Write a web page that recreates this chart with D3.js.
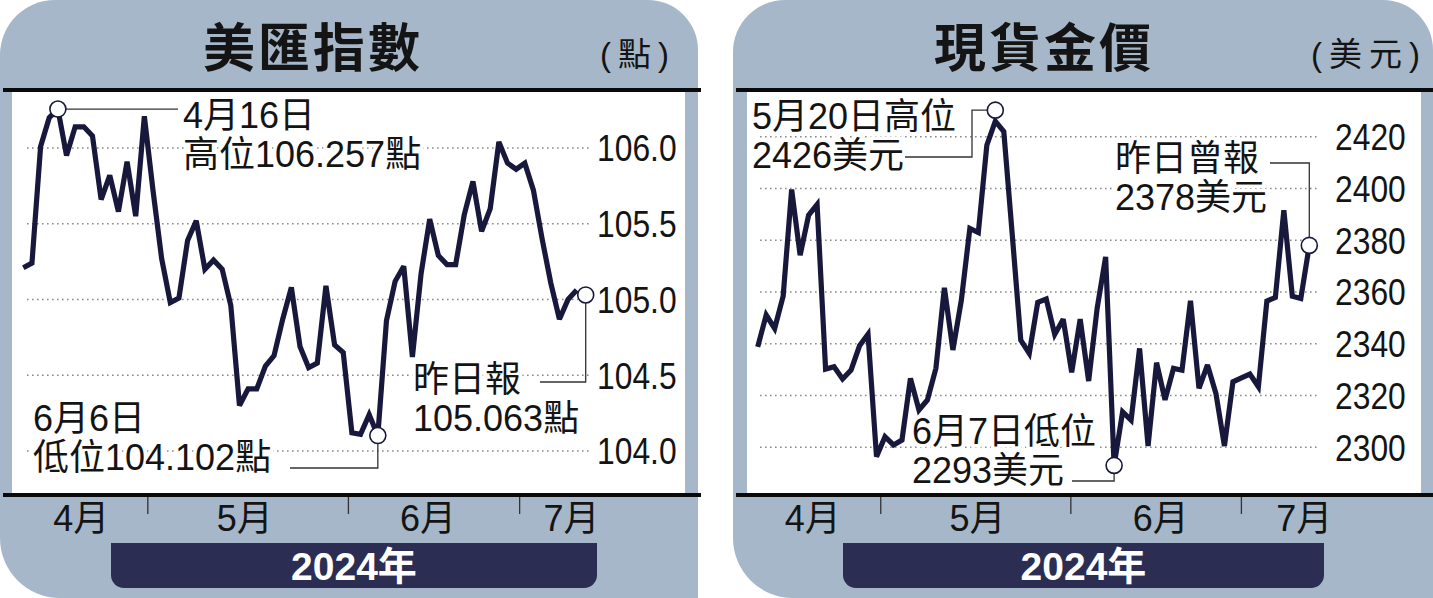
<!DOCTYPE html>
<html>
<head>
<meta charset="utf-8">
<script src="https://cdn.jsdelivr.net/npm/d3@7"></script>
<style>
  html, body { margin: 0; padding: 0; background: #fff; }
  svg { display: block; }
  text { font-family: 'Liberation Sans', 'Noto Sans CJK TC', sans-serif; fill: #141414; }
</style>
</head>
<body>
<svg id="chart" width="1433" height="598"></svg>
<script>
// 美匯指數, one value per trading day
const dxyValues = [
  105.21, 105.24, 106.01, 106.20, 106.257, 105.95, 106.14, 106.14, 106.08, 105.66,
  105.82, 105.58, 105.91, 105.55, 106.21, 105.72, 105.27, 104.98, 105.01, 105.39,
  105.52, 105.20, 105.26, 105.20, 104.96, 104.30, 104.41, 104.41, 104.56, 104.63,
  104.87, 105.08, 104.69, 104.55, 104.58, 105.09, 104.70, 104.65, 104.12, 104.11,
  104.24, 104.102, 104.86, 105.12, 105.22, 104.62, 105.17, 105.53, 105.29, 105.23,
  105.23, 105.56, 105.78, 105.45, 105.60, 106.04, 105.90, 105.86, 105.90, 105.72,
  105.40, 105.11, 104.87, 105.00, 105.063
];

// 現貨金價 (美元), one value per trading day
const goldValues = [
  2338.8, 2351.1, 2345.9, 2358.4, 2399.6, 2374.2, 2389.7, 2393.8, 2330.2, 2331.1,
  2326.4, 2329.8, 2339.2, 2343.7, 2296.4, 2304.1, 2300.9, 2302.8, 2326.6, 2314.4,
  2318.3, 2330.5, 2361.6, 2337.6, 2356.9, 2384.6, 2383.0, 2416.7, 2426, 2422,
  2382, 2341.4, 2336.3, 2356.0, 2357.3, 2343.6, 2349.5, 2329.0, 2349.5, 2325.6,
  2353.7, 2373.6, 2293, 2313.7, 2310.5, 2338.2, 2300.5, 2332.7, 2318.3, 2330.5,
  2329.8, 2356.6, 2322.8, 2331.8, 2320.8, 2300.5, 2325.3, 2326.8, 2328.3, 2323.4,
  2356.5, 2357.9, 2391.6, 2358.4, 2357.5, 2378
];

const dxyTicks = [104.0, 104.5, 105.0, 105.5, 106.0];
const goldTicks = [2300, 2320, 2340, 2360, 2380, 2400, 2420];

const monthLabels = ['4月', '5月', '6月', '7月'];
// month boundaries and label centres, in trading-day index units
const dxyMonthBreaks = [14.4, 37.6, 57.4];
const dxyMonthCentres = [6.7, 25.6, 46.8, 63.4];
const goldMonthBreaks = [14.5, 36.9, 57.0];
const goldMonthCentres = [6.5, 25.9, 47.5, 64.4];

const dxyNoteIndex = [4, 41, 64];
const dxyNoteText = [['4月16日', '高位106.257點'], ['6月6日', '低位104.102點'], ['昨日報', '105.063點']];
const goldNoteIndex = [28, 42, 65];
const goldNoteText = [['5月20日高位', '2426美元'], ['6月7日低位', '2293美元'], ['昨日曾報', '2378美元']];

const yearLabel = '2024年';

const PANEL_BG = '#a5b7c8';
const NAVY = '#17183c';
const R = 8; // marker radius

const svg = d3.select('#chart');

// rect path with individual corner radii [tl, tr, br, bl]
function cornerPath(x0, y0, x1, y1, r) {
  const [tl, tr, br, bl] = r;
  const p = d3.path();
  p.moveTo(x0 + tl, y0);
  p.lineTo(x1 - tr, y0);
  if (tr) p.arcTo(x1, y0, x1, y0 + tr, tr);
  p.lineTo(x1, y1 - br);
  if (br) p.arcTo(x1, y1, x1 - br, y1, br);
  p.lineTo(x0 + bl, y1);
  if (bl) p.arcTo(x0, y1, x0, y1 - bl, bl);
  p.lineTo(x0, y0 + tl);
  if (tl) p.arcTo(x0, y0, x0 + tl, y0, tl);
  p.closePath();
  return p.toString();
}

const panels = [
  {
    title: '美匯指數', unit: '(點)', values: dxyValues, ticks: dxyTicks,
    fmt: d3.format('.1f'), breaks: dxyMonthBreaks, centres: dxyMonthCentres,
    box: [0, 698], corners: [55, 50, 0, 60], plotX: [12, 685], ruleX: [3, 701],
    xRange: [23.3, 576.7], yDomain: [104, 106], yRange: [451, 148],
    gridX: [27, 592], tickX: 597, titleX: 313, unitX: 600, band: [111, 597],
    notes: [
      { i: 0, tx: 183, ty: 128, off: [0, 0],
        leader: c => `M${c[0] + R},${c[1]}H178` },
      { i: 1, tx: 33, ty: 431, off: [0, 0],
        leader: c => `M${c[0]},${c[1] + R}V468H290` },
      { i: 2, tx: 413, ty: 392, off: [9, 5],
        leader: c => `M${c[0]},${c[1] + R}V382H540` }
    ],
    noteIdx: dxyNoteIndex, noteText: dxyNoteText
  },
  {
    title: '現貨金價', unit: '(美元)', values: goldValues, ticks: goldTicks,
    fmt: d3.format('d'), breaks: goldMonthBreaks, centres: goldMonthCentres,
    box: [733, 1433], corners: [52, 50, 0, 60], plotX: [747, 1421], ruleX: [736, 1433],
    xRange: [757.7, 1309.3], yDomain: [2300, 2420], yRange: [447.3, 136.7],
    gridX: [760, 1320], tickX: 1335, titleX: 1044, unitX: 1311, band: [843, 1324],
    notes: [
      { i: 0, tx: 752, ty: 129, off: [0, -11],
        leader: c => `M905,157H972V${c[1]}H${c[0] - R}` },
      { i: 1, tx: 912, ty: 444, off: [0, 0],
        leader: c => `M1072,481H${c[0]}V${c[1] + R}` },
      { i: 2, tx: 1115, ty: 171, off: [0, 0],
        leader: c => `M1270,163H${c[0]}V${c[1] - R}` }
    ],
    noteIdx: goldNoteIndex, noteText: goldNoteText
  }
];

panels.forEach(p => {
  const g = svg.append('g');
  const x = d3.scaleLinear().domain([0, p.values.length - 1]).range(p.xRange);
  const y = d3.scaleLinear().domain(p.yDomain).range(p.yRange);

  // panel background
  g.append('path')
    .attr('d', cornerPath(p.box[0], 0, p.box[1], 598, p.corners))
    .attr('fill', PANEL_BG);

  // white plot area
  g.append('rect')
    .attr('x', p.plotX[0]).attr('y', 92)
    .attr('width', p.plotX[1] - p.plotX[0]).attr('height', 401)
    .attr('fill', '#fff');

  // title + unit
  g.append('text')
    .attr('x', p.titleX).attr('y', 67)
    .attr('text-anchor', 'middle')
    .style('font-family', "'Noto Sans CJK TC', sans-serif")
    .style('font-size', '52px').style('font-weight', 700)
    .style('letter-spacing', '3px')
    .text(p.title);
  g.append('text')
    .attr('x', p.unitX).attr('y', 66)
    .style('font-size', '33px')
    .style('letter-spacing', '7px')
    .text(p.unit);

  // gridlines
  g.append('g').selectAll('line')
    .data(p.ticks)
    .join('line')
    .attr('x1', p.gridX[0]).attr('x2', p.gridX[1])
    .attr('y1', d => y(d)).attr('y2', d => y(d))
    .attr('stroke', '#8a8a8a')
    .attr('stroke-width', 1.6)
    .attr('stroke-dasharray', '1.6 3.4');

  // y tick labels (condensed)
  g.append('g').selectAll('text')
    .data(p.ticks)
    .join('text')
    .attr('transform', d => `translate(${p.tickX},${y(d)}) scale(0.86,1)`)
    .attr('dy', '0.36em')
    .style('font-size', '37px')
    .text(d => p.fmt(d));

  // rules top and bottom
  [90, 495].forEach(ry => {
    g.append('line')
      .attr('x1', p.ruleX[0]).attr('x2', p.ruleX[1])
      .attr('y1', ry).attr('y2', ry)
      .attr('stroke', '#0a0a0a').attr('stroke-width', 4);
  });

  // month separators + labels
  g.append('g').selectAll('line')
    .data(p.breaks)
    .join('line')
    .attr('x1', d => x(d)).attr('x2', d => x(d))
    .attr('y1', 497).attr('y2', 514)
    .attr('stroke', '#333').attr('stroke-width', 1.3);
  g.append('g').selectAll('text')
    .data(monthLabels)
    .join('text')
    .attr('x', (d, i) => x(p.centres[i])).attr('y', 531)
    .attr('text-anchor', 'middle')
    .style('font-size', '36px')
    .text(d => d);

  // year band
  g.append('path')
    .attr('d', cornerPath(p.band[0], 543, p.band[1], 588, [0, 0, 13, 13]))
    .attr('fill', '#2b2d53');
  g.append('text')
    .attr('x', (p.band[0] + p.band[1]) / 2).attr('y', 580)
    .attr('text-anchor', 'middle')
    .style('font-size', '39px').style('font-weight', 700)
    .style('fill', '#fff')
    .text(yearLabel);

  // annotation text with white halo
  const noteG = g.append('g');
  p.notes.forEach(n => {
    p.noteText[n.i].forEach((s, k) => {
      noteG.append('text')
        .attr('x', n.tx).attr('y', n.ty + k * 39)
        .style('font-size', '36px')
        .style('stroke', '#fff').style('stroke-width', 7)
        .style('paint-order', 'stroke')
        .text(s);
    });
  });

  // data line
  const line = d3.line().x((d, i) => x(i)).y(d => y(d));
  g.append('path')
    .datum(p.values)
    .attr('d', line)
    .attr('fill', 'none')
    .attr('stroke', NAVY)
    .attr('stroke-width', 5.2)
    .attr('stroke-linejoin', 'miter')
    .attr('stroke-miterlimit', 3);

  // markers + leaders
  p.notes.forEach(n => {
    const idx = p.noteIdx[n.i];
    const c = [x(idx) + n.off[0], y(p.values[idx]) + n.off[1]];
    g.append('path')
      .attr('d', n.leader(c))
      .attr('fill', 'none')
      .attr('stroke', '#333')
      .attr('stroke-width', 1.3);
    g.append('circle')
      .attr('cx', c[0]).attr('cy', c[1]).attr('r', R)
      .attr('fill', '#fff')
      .attr('stroke', NAVY)
      .attr('stroke-width', 1.6);
  });
});
</script>
</body>
</html>
